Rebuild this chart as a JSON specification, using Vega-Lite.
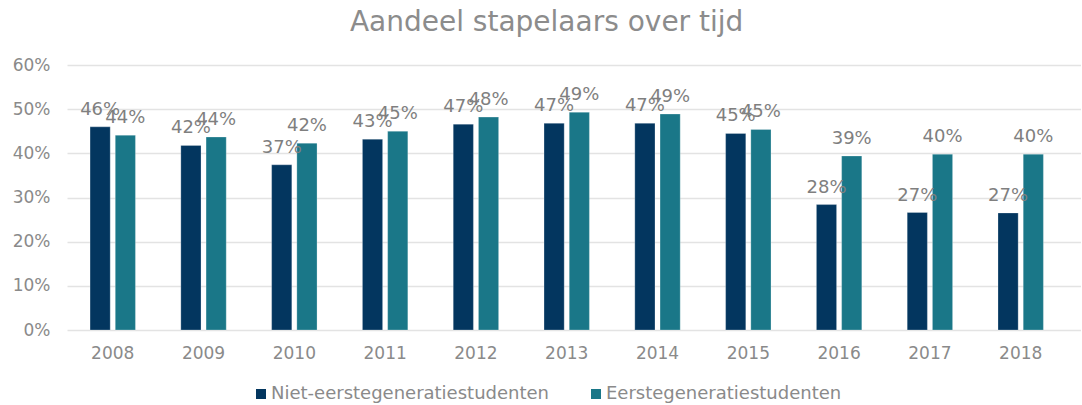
{
  "$schema": "https://vega.github.io/schema/vega-lite/v6.json",
  "width": 1014,
  "height": 265,
  "padding": {"left": 12, "top": 9, "right": 0, "bottom": 2},
  "title": {"text": "Aandeel stapelaars over tijd", "fontSize": 28, "font": "DejaVu Sans", "fontWeight": "normal", "color": "#8c8c8c", "offset": 19, "anchor": "middle", "frame": "bounds"},
  "config": {"view": {"stroke": null}, "font": "DejaVu Sans"},
  "data": {"values": [
    {"jaar": "2008", "groep": "Niet-eerstegeneratiestudenten", "aandeel": 0.460},
    {"jaar": "2008", "groep": "Eerstegeneratiestudenten", "aandeel": 0.441},
    {"jaar": "2009", "groep": "Niet-eerstegeneratiestudenten", "aandeel": 0.418},
    {"jaar": "2009", "groep": "Eerstegeneratiestudenten", "aandeel": 0.437},
    {"jaar": "2010", "groep": "Niet-eerstegeneratiestudenten", "aandeel": 0.374},
    {"jaar": "2010", "groep": "Eerstegeneratiestudenten", "aandeel": 0.423},
    {"jaar": "2011", "groep": "Niet-eerstegeneratiestudenten", "aandeel": 0.432},
    {"jaar": "2011", "groep": "Eerstegeneratiestudenten", "aandeel": 0.450},
    {"jaar": "2012", "groep": "Niet-eerstegeneratiestudenten", "aandeel": 0.466},
    {"jaar": "2012", "groep": "Eerstegeneratiestudenten", "aandeel": 0.482},
    {"jaar": "2013", "groep": "Niet-eerstegeneratiestudenten", "aandeel": 0.468},
    {"jaar": "2013", "groep": "Eerstegeneratiestudenten", "aandeel": 0.493},
    {"jaar": "2014", "groep": "Niet-eerstegeneratiestudenten", "aandeel": 0.468},
    {"jaar": "2014", "groep": "Eerstegeneratiestudenten", "aandeel": 0.489},
    {"jaar": "2015", "groep": "Niet-eerstegeneratiestudenten", "aandeel": 0.445},
    {"jaar": "2015", "groep": "Eerstegeneratiestudenten", "aandeel": 0.454},
    {"jaar": "2016", "groep": "Niet-eerstegeneratiestudenten", "aandeel": 0.284},
    {"jaar": "2016", "groep": "Eerstegeneratiestudenten", "aandeel": 0.394},
    {"jaar": "2017", "groep": "Niet-eerstegeneratiestudenten", "aandeel": 0.266},
    {"jaar": "2017", "groep": "Eerstegeneratiestudenten", "aandeel": 0.398},
    {"jaar": "2018", "groep": "Niet-eerstegeneratiestudenten", "aandeel": 0.265},
    {"jaar": "2018", "groep": "Eerstegeneratiestudenten", "aandeel": 0.398}
  ]},
  "encoding": {
    "x": {"field": "jaar", "type": "nominal", "title": null,
      "scale": {"paddingInner": 0.5, "paddingOuter": 0.334, "align": 0.38},
      "axis": {"labelAngle": 0, "domain": false, "ticks": false, "labelFontSize": 17, "labelColor": "#8a8a8a", "labelPadding": 15, "grid": false}},
    "xOffset": {"field": "groep", "type": "nominal", "sort": ["Niet-eerstegeneratiestudenten", "Eerstegeneratiestudenten"], "scale": {"paddingInner": 0.2, "paddingOuter": 0}},
    "y": {"field": "aandeel", "type": "quantitative", "title": null,
      "scale": {"domain": [0, 0.6], "nice": false},
      "axis": {"values": [0, 0.1, 0.2, 0.3, 0.4, 0.5, 0.6], "format": ".0%", "domain": false, "ticks": false, "labelFontSize": 17, "labelColor": "#8a8a8a", "labelPadding": 17, "gridColor": "#e3e3e3", "gridWidth": 1.5}}
  },
  "layer": [
    {"mark": {"type": "bar", "stroke": "#ffffff", "strokeWidth": 0.5, "strokeOpacity": 0.5},
     "encoding": {"color": {"field": "groep", "type": "nominal",
       "scale": {"domain": ["Niet-eerstegeneratiestudenten", "Eerstegeneratiestudenten"], "range": ["#03365F", "#1A7788"]},
       "legend": {"orient": "none", "legendX": 185, "legendY": 320, "direction": "horizontal", "title": null, "symbolType": "square", "symbolSize": 100, "symbolStrokeWidth": 0, "labelFontSize": 18, "labelColor": "#8a8a8a", "labelLimit": 0, "columnPadding": 38, "labelOffset": 1}}}},
    {"mark": {"type": "text", "baseline": "alphabetic", "dy": -12, "fontSize": 18, "color": "#7f7f7f"},
     "encoding": {"text": {"field": "aandeel", "type": "quantitative", "format": ".0%"}}}
  ]
}
